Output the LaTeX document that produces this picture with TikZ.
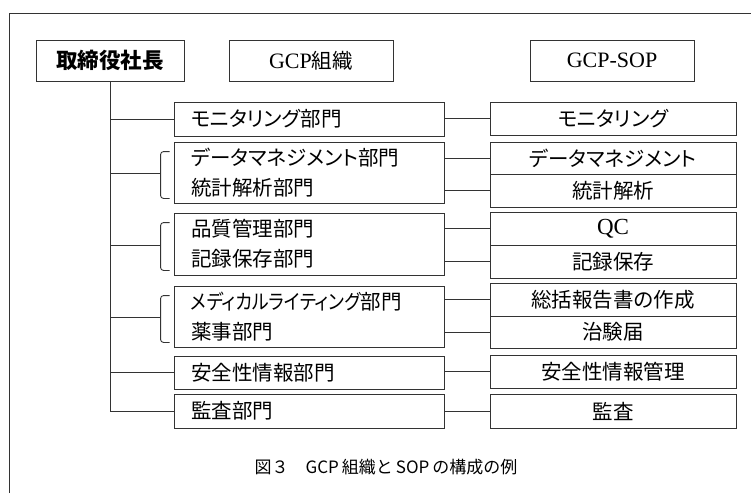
\documentclass[tikz,border=0pt]{standalone}
\usepackage{fontspec}
\usepackage{graphicx}
\setmainfont{Liberation Serif}
\newfontfamily\cjk{Noto Sans CJK JP}
\newfontfamily\cjkp[RawFeature=+palt]{Noto Sans CJK JP}
\usetikzlibrary{calc}
\definecolor{lc}{HTML}{333333}
\begin{document}
\begin{tikzpicture}[x=1pt,y=-1pt,
  lw/.style={draw=lc,line width=0.9pt},
  box/.style={lw,inner sep=0pt,font=\cjkp\fontsize{20.5}{30}\selectfont},
  headbox/.style={box,minimum height=41pt},
  lbox/.style={box,minimum width=270pt,text width=236pt,align=left},
  rbox/.style={box,minimum width=246pt,align=center},
  conn/.style={lw},
  brk/.style={lw,rounded corners=3pt}]
\useasboundingbox (0,0) rectangle (751,493);
\draw[lw] (9,493) -- (9,13) -- (751,13);
% header
\node[headbox,minimum width=148pt,font=\cjk\bfseries\fontsize{21.5}{24}\selectfont] (ceo) at (110,60.5) {取締役社長};
\node[headbox,minimum width=164pt,font=\fontsize{22}{24}\selectfont] (gcp) at (311,60.5) {GCP{\cjk\fontsize{20.5}{24}\selectfont 組織}};
\node[headbox,minimum width=164pt,font=\fontsize{22}{24}\selectfont] (sop) at (612,60.5) {GCP-SOP};
% left boxes
\node[lbox,minimum height=34pt] (m1) at (309,119) {モニタリング部門};
\node[lbox,minimum height=61pt] (m2) at (309,172.5) {データマネジメント部門\\統計解析部門};
\node[lbox,minimum height=62pt] (m3) at (309,244) {品質管理部門\\記録保存部門};
\node[lbox,minimum height=61pt] (m4) at (309,316.5) {\scalebox{0.87}[1]{メディカルライティング}部門\\薬事部門};
\node[lbox,minimum height=33pt] (m5) at (309,372.5) {安全性情報部門};
\node[lbox,minimum height=34pt] (m6) at (309,411) {監査部門};
% right boxes
\node[rbox,minimum height=33pt] (r1) at (613,118.5) {モニタリング};
\node[rbox,minimum height=32pt] (r2a) at (613,158) {データマネジメント};
\node[rbox,minimum height=33pt] (r2b) at (613,190.5) {統計解析};
\node[rbox,minimum height=33pt] (r3a) at (613,228.5) {\rmfamily\fontsize{23}{24}\selectfont QC};
\node[rbox,minimum height=33pt] (r3b) at (613,261.5) {記録保存};
\node[rbox,minimum height=33pt] (r4a) at (613,299.5) {総括報告書の作成};
\node[rbox,minimum height=32pt] (r4b) at (613,332) {治験届};
\node[rbox,minimum height=33pt] (r5) at (613,371.5) {安全性情報管理};
\node[rbox,minimum height=34pt] (r6) at (613,411) {監査};
% trunk and branches
\draw[conn] (ceo.south) -- (ceo.south |- m6.west) -- (m6.west);
\draw[conn] (ceo.south |- m1.west) -- (m1.west);
\draw[conn] (ceo.south |- m5.west) -- (m5.west);
\foreach \m in {m2,m3,m4}{
  \draw[conn] ($(ceo.south |- \m.west)+(0,1)$) -- ($(\m.west)+(-13,1)$);
  \draw[brk] ($(\m.north west)+(-4,10)$) -- ($(\m.north west)+(-13,10)$) -- ($(\m.south west)+(-13,-5)$) -- ($(\m.south west)+(-4,-5)$);
}
% connectors left -> right
\foreach \r/\m in {r1/m1,r2a/m2,r2b/m2,r3a/m3,r3b/m3,r4a/m4,r4b/m4,r5/m5,r6/m6}{
  \draw[conn] (\r.west -| \m.east) -- (\r.west);
}
% caption
\node[font=\cjk\fontsize{17}{20}\selectfont] (cap) at (386,467) {図３\quad GCP\hspace{3pt}組織と\hspace{3pt}SOP\hspace{3pt}の構成の例};
\end{tikzpicture}
\end{document}
